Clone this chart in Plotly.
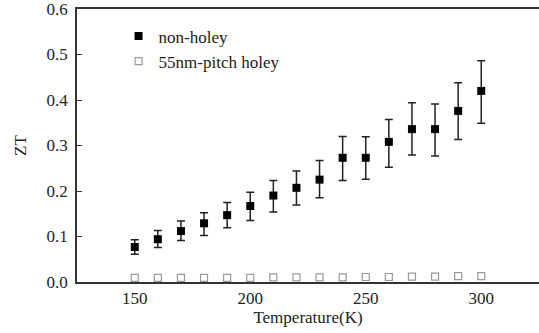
import plotly.graph_objects as go

temps = [150, 160, 170, 180, 190, 200, 210, 220, 230, 240, 250, 260, 270, 280, 290, 300]
zt_nonholey = [0.077, 0.094, 0.112, 0.129, 0.147, 0.167, 0.190, 0.207, 0.225, 0.273, 0.273, 0.308, 0.336, 0.336, 0.376, 0.420]
err_plus = [0.016, 0.019, 0.022, 0.023, 0.028, 0.030, 0.033, 0.037, 0.042, 0.047, 0.046, 0.049, 0.058, 0.055, 0.062, 0.066]
err_minus = [0.016, 0.018, 0.021, 0.027, 0.028, 0.032, 0.036, 0.038, 0.040, 0.050, 0.047, 0.056, 0.057, 0.059, 0.063, 0.071]
zt_holey = [0.009, 0.009, 0.009, 0.009, 0.009, 0.009, 0.010, 0.010, 0.010, 0.010, 0.011, 0.011, 0.012, 0.012, 0.013, 0.013]
y_ticks = [0.0, 0.1, 0.2, 0.3, 0.4, 0.5, 0.6]
x_ticks = [150, 200, 250, 300]

FONT = "Liberation Serif"

fig = go.Figure()
fig.add_trace(go.Scatter(
    x=temps, y=zt_nonholey, mode="markers", name="non-holey",
    marker=dict(symbol="square", size=8, color="black"),
    error_y=dict(type="data", symmetric=False, array=err_plus, arrayminus=err_minus,
                 color="#222", thickness=1.5, width=4),
))
fig.add_trace(go.Scatter(
    x=temps, y=zt_holey, mode="markers", name="55nm-pitch holey",
    marker=dict(symbol="square-open", size=7, color="#999999", line=dict(width=1.2)),
))

fig.update_layout(
    width=539, height=333,
    margin=dict(l=77, r=0, t=7, b=51),
    paper_bgcolor="white", plot_bgcolor="white",
    font=dict(family=FONT, size=17, color="#222"),
    showlegend=True,
    legend=dict(x=0.09, y=0.965, xanchor="left", yanchor="top",
                bgcolor="rgba(0,0,0,0)", font=dict(family=FONT, size=17, color="#222"),
                itemsizing="trace", tracegroupgap=0),
    xaxis=dict(range=[125, 325], tickvals=x_ticks, showgrid=False, zeroline=False,
               showline=True, linecolor="#333", linewidth=1.5, mirror=True,
               ticks="", title=dict(text="Temperature(K)", font=dict(size=17), standoff=4)),
    yaxis=dict(range=[0, 0.6], tickvals=y_ticks, tickformat=".1f", showgrid=False,
               zeroline=False, showline=True, linecolor="#333", linewidth=1.5,
               ticks="inside", ticklen=5, tickcolor="#333", ticklabelstandoff=4,
               ticklabeloverflow="allow",
               title=dict(text="ZT", font=dict(size=17), standoff=16)),
)

fig.write_html("out.html")
